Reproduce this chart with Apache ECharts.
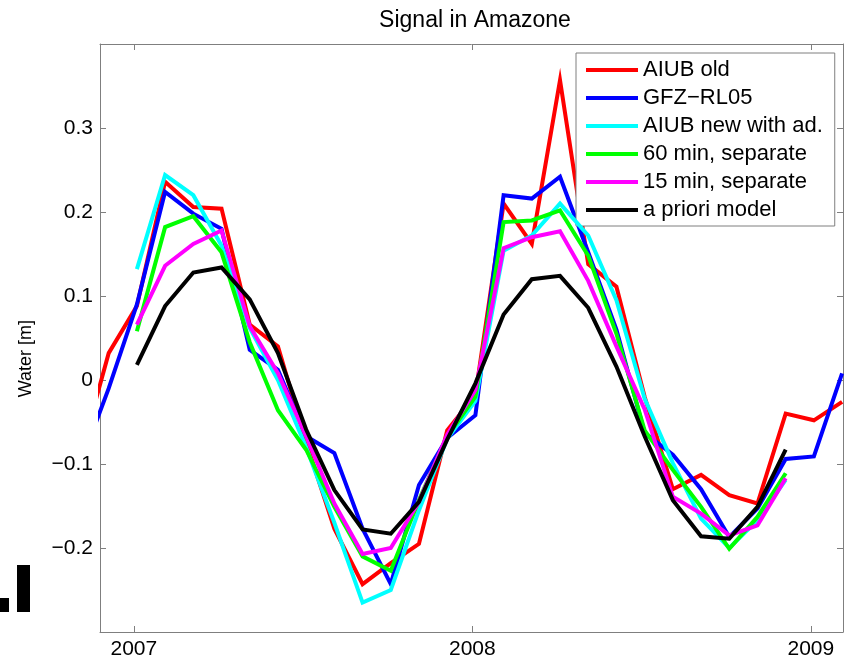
<!DOCTYPE html>
<html>
<head>
<meta charset="utf-8">
<script src="https://cdn.jsdelivr.net/npm/echarts@6.0.0/dist/echarts.min.js"></script>
<style>
  html, body { margin: 0; padding: 0; background: #fff; }
  #chart { width: 852px; height: 662px; }
</style>
</head>
<body>
<div id="chart"></div>
<script>
// monthly samples, Nov 2006 .. Feb 2009
var months = ['2006-11','2006-12',
  '2007-01','2007-02','2007-03','2007-04','2007-05','2007-06','2007-07','2007-08','2007-09','2007-10','2007-11','2007-12',
  '2008-01','2008-02','2008-03','2008-04','2008-05','2008-06','2008-07','2008-08','2008-09','2008-10','2008-11','2008-12',
  '2009-01','2009-02'];

var aiubOld   = [-0.090, 0.032, 0.088, 0.236, 0.206, 0.204, 0.066, 0.040, -0.074, -0.177, -0.243, -0.218, -0.195, -0.060,
                 -0.018, 0.210, 0.162, 0.357, 0.138, 0.111, -0.020, -0.130, -0.113, -0.137, -0.147, -0.040, -0.048, -0.026];
var gfzRL05   = [-0.100, -0.010, 0.090, 0.224, 0.198, 0.180, 0.036, 0.012, -0.067, -0.087, -0.177, -0.243, -0.125, -0.069,
                 -0.042, 0.220, 0.216, 0.242, 0.152, 0.060, -0.063, -0.089, -0.130, -0.187, -0.153, -0.094, -0.091, 0.008];
var aiubNew   = [null, null, 0.132, 0.244, 0.220, 0.160, 0.062, 0.000, -0.080, -0.170, -0.265, -0.250, -0.155, -0.070,
                 -0.025, 0.154, 0.172, 0.210, 0.172, 0.095, -0.022, -0.099, -0.165, -0.200, -0.167, -0.119, null, null];
var sep60     = [null, null, 0.058, 0.182, 0.195, 0.152, 0.045, -0.036, -0.083, -0.151, -0.210, -0.227, -0.143, -0.067,
                 -0.020, 0.188, 0.190, 0.202, 0.148, 0.055, -0.060, -0.107, -0.151, -0.201, -0.163, -0.111, null, null];
var sep15     = [null, null, 0.066, 0.136, 0.162, 0.178, 0.064, 0.008, -0.067, -0.147, -0.207, -0.200, -0.145, -0.065,
                 -0.012, 0.157, 0.170, 0.177, 0.118, 0.040, -0.035, -0.139, -0.159, -0.185, -0.173, -0.117, null, null];
var apriori   = [null, null, 0.018, 0.088, 0.128, 0.134, 0.096, 0.032, -0.059, -0.131, -0.178, -0.183, -0.145, -0.071,
                 -0.004, 0.078, 0.120, 0.124, 0.086, 0.016, -0.067, -0.143, -0.186, -0.189, -0.151, -0.083, null, null];

var seriesNames = ['AIUB old', 'GFZ\u2212RL05', 'AIUB new with ad.', '60 min, separate', '15 min, separate', 'a priori model'];
var seriesColors = ['#ff0000', '#0000ff', '#00ffff', '#00ff00', '#ff00ff', '#000000'];
var seriesData = [aiubOld, gfzRL05, aiubNew, sep60, sep15, apriori];

var yearTicks = [2007, 2008, 2009];
var waterTicks = [-0.2, -0.1, 0, 0.1, 0.2, 0.3];

var FONT = 'Liberation Sans, Arial, Helvetica, sans-serif';
var AXIS_GRAY = '#7f7f7f';

function toYear(s) {
    var p = s.split('-');
    return +p[0] + (+p[1] - 1) / 12 + 0.009;
}

function buildSeries() {
    var list = [];
    for (var i = 0; i < seriesNames.length; i++) {
        var pts = [];
        for (var k = 0; k < months.length; k++) {
            if (seriesData[i][k] !== null) pts.push([toYear(months[k]), seriesData[i][k]]);
        }
        list.push({
            name: seriesNames[i],
            type: 'line',
            data: pts,
            showSymbol: false,
            symbol: 'none',
            clip: true,
            animation: false,
            lineStyle: { color: seriesColors[i], width: 4, join: 'miter' },
            itemStyle: { color: seriesColors[i] },
            z: 2 + i
        });
    }
    return list;
}

function fmtWater(v) {
    if (Math.abs(v) < 1e-9) return '0';
    return (v < 0 ? '\u2212' : '') + Math.abs(v).toFixed(1);
}

// box axis helper (ticks inside, grey line, no grid)
function frameAxis(extra) {
    var a = {
        type: 'value',
        axisLine: { show: true, onZero: false, lineStyle: { color: AXIS_GRAY, width: 1 } },
        splitLine: { show: false }
    };
    for (var k in extra) a[k] = extra[k];
    return a;
}

var chart = echarts.init(document.getElementById('chart'), null, { renderer: 'canvas' });
var option = {
    backgroundColor: '#ffffff',
    animation: false,
    textStyle: { fontFamily: FONT },
    title: {
        text: 'Signal in Amazone',
        left: 470,
        textAlign: 'center',
        top: 4,
        textStyle: { fontFamily: FONT, fontSize: 23, fontWeight: 'normal', color: '#000' }
    },
    legend: {
        orient: 'vertical',
        left: 576,
        top: 53,
        padding: [6, 12, 5, 10],
        itemWidth: 52,
        itemHeight: 4,
        itemGap: 6,
        icon: 'rect',
        backgroundColor: '#ffffff',
        borderColor: AXIS_GRAY,
        borderWidth: 1,
        borderRadius: 0,
        textStyle: { fontFamily: FONT, fontSize: 22, color: '#000', lineHeight: 21 },
        data: seriesNames
    },
    grid: { left: 100, right: 9, top: 44, bottom: 30, containLabel: false },
    xAxis: [frameAxis({
        min: 2006.9, max: 2009.095, position: 'bottom',
        axisTick: { show: true, inside: true, length: 6, customValues: yearTicks, lineStyle: { color: AXIS_GRAY } },
        axisLabel: { show: true, customValues: yearTicks, color: '#000', fontSize: 21, fontFamily: FONT, margin: 7,
                     formatter: function (v) { return String(v); } }
    }), frameAxis({
        min: 2006.9, max: 2009.095, position: 'top',
        axisTick: { show: true, inside: true, length: 6, customValues: yearTicks, lineStyle: { color: AXIS_GRAY } },
        axisLabel: { show: false }
    })],
    yAxis: [frameAxis({
        min: -0.3, max: 0.4, position: 'left',
        axisTick: { show: true, inside: true, length: 6, customValues: waterTicks, lineStyle: { color: AXIS_GRAY } },
        axisLabel: { show: true, customValues: waterTicks, color: '#000', fontSize: 21, fontFamily: FONT, margin: 7,
                     formatter: fmtWater }
    }), frameAxis({
        min: -0.3, max: 0.4, position: 'right',
        axisTick: { show: true, inside: true, length: 6, customValues: waterTicks, lineStyle: { color: AXIS_GRAY } },
        axisLabel: { show: false }
    })],
    graphic: [{
        type: 'text',
        left: 17,
        top: 320,
        rotation: Math.PI / 2,
        style: { text: 'Water [m]', font: '18px ' + FONT, fill: '#000' }
    }, {
        // cropped neighbour panel mark at bottom-left corner
        type: 'group',
        children: [
            { type: 'rect', shape: { x: 17, y: 565, width: 13, height: 47 }, style: { fill: '#000' } },
            { type: 'rect', shape: { x: 0, y: 598, width: 9, height: 14 }, style: { fill: '#000' } }
        ]
    }],
    series: buildSeries()
};
chart.setOption(option);
</script>
</body>
</html>
